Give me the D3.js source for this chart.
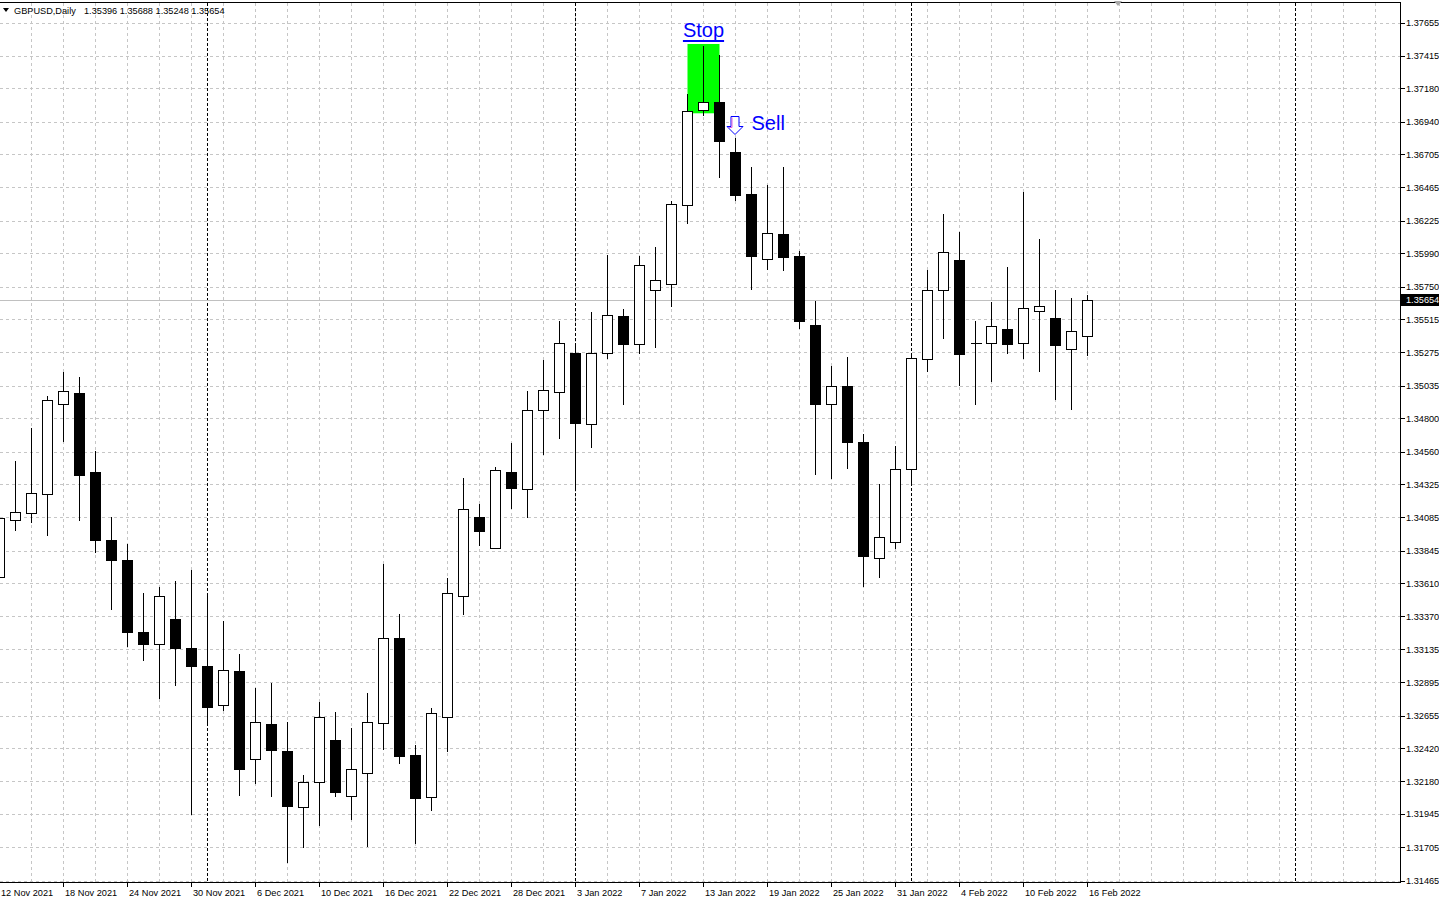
<!DOCTYPE html>
<html>
<head>
<meta charset="utf-8">
<script src="https://cdn.jsdelivr.net/npm/d3@7"></script>
<style>
    html, body { margin: 0; padding: 0; background: #ffffff; overflow: hidden; }
    svg { display: block; font-family: "Liberation Sans", Arial, sans-serif; }
</style>
</head>
<body>
<div id="grafico"></div>
<script>
const symbol = "GBPUSD,Daily";

const dates = [
    "2021-11-12", "2021-11-15", "2021-11-16", "2021-11-17", "2021-11-18", "2021-11-19",
    "2021-11-22", "2021-11-23", "2021-11-24", "2021-11-25", "2021-11-26",
    "2021-11-29", "2021-11-30", "2021-12-01", "2021-12-02", "2021-12-03",
    "2021-12-06", "2021-12-07", "2021-12-08", "2021-12-09", "2021-12-10",
    "2021-12-13", "2021-12-14", "2021-12-15", "2021-12-16", "2021-12-17",
    "2021-12-20", "2021-12-21", "2021-12-22", "2021-12-23", "2021-12-24",
    "2021-12-27", "2021-12-28", "2021-12-29", "2021-12-30", "2021-12-31",
    "2022-01-03", "2022-01-04", "2022-01-05", "2022-01-06", "2022-01-07",
    "2022-01-10", "2022-01-11", "2022-01-12", "2022-01-13", "2022-01-14",
    "2022-01-17", "2022-01-18", "2022-01-19", "2022-01-20", "2022-01-21",
    "2022-01-24", "2022-01-25", "2022-01-26", "2022-01-27", "2022-01-28",
    "2022-01-31", "2022-02-01", "2022-02-02", "2022-02-03", "2022-02-04",
    "2022-02-07", "2022-02-08", "2022-02-09", "2022-02-10", "2022-02-11",
    "2022-02-14", "2022-02-15", "2022-02-16"
];

const open = [
    1.33651, 1.34069, 1.34113, 1.34250, 1.34906, 1.34979, 1.34409, 1.33925, 1.33774, 1.33261,
    1.33168, 1.33355, 1.33139, 1.33009, 1.32728, 1.32980, 1.32345, 1.32591, 1.32396, 1.31992,
    1.32179, 1.32482, 1.32078, 1.32244, 1.32598, 1.33211, 1.32374, 1.32064, 1.32641, 1.33521,
    1.34084, 1.33867, 1.34409, 1.34293, 1.34863, 1.34986, 1.35274, 1.34762, 1.35274, 1.35541,
    1.35332, 1.35722, 1.35765, 1.36335, 1.37027, 1.37078, 1.36724, 1.36421, 1.35952, 1.36126,
    1.35967, 1.35476, 1.34906, 1.35029, 1.34625, 1.33795, 1.33904, 1.34437, 1.35224, 1.35722,
    1.35945, 1.35346, 1.35346, 1.35447, 1.35346, 1.35577, 1.35520, 1.35303, 1.35396
];

const high = [
    1.34120, 1.34488, 1.34726, 1.34957, 1.35130, 1.35094, 1.34567, 1.34091, 1.33896, 1.33536,
    1.33586, 1.33629, 1.33702, 1.33514, 1.33334, 1.33096, 1.32857, 1.32893, 1.32605, 1.32223,
    1.32756, 1.32684, 1.32562, 1.32821, 1.33745, 1.33391, 1.32446, 1.32706, 1.33644, 1.34372,
    1.34178, 1.34445, 1.34618, 1.34993, 1.35217, 1.35498, 1.35325, 1.35570, 1.35981, 1.35585,
    1.35967, 1.36032, 1.36364, 1.37136, 1.37482, 1.37424, 1.36825, 1.36609, 1.36486, 1.36616,
    1.36010, 1.35649, 1.35180, 1.35245, 1.34683, 1.34322, 1.34603, 1.35274, 1.35866, 1.36277,
    1.36147, 1.35505, 1.35635, 1.35888, 1.36429, 1.36090, 1.35722, 1.35664, 1.35688
];

const low = [
    1.33608, 1.33990, 1.34041, 1.33947, 1.34625, 1.34062, 1.33831, 1.33413, 1.33146, 1.33045,
    1.32771, 1.32865, 1.31941, 1.32583, 1.32691, 1.32078, 1.32158, 1.32071, 1.31588, 1.31696,
    1.31855, 1.32064, 1.31898, 1.31710, 1.32410, 1.32302, 1.31725, 1.31963, 1.32389, 1.33384,
    1.33875, 1.33860, 1.34142, 1.34077, 1.34538, 1.34647, 1.34300, 1.34582, 1.35224, 1.34892,
    1.35260, 1.35310, 1.35606, 1.36198, 1.36984, 1.36530, 1.36364, 1.35722, 1.35866, 1.35859,
    1.35447, 1.34394, 1.34358, 1.34437, 1.33579, 1.33644, 1.33853, 1.34315, 1.35137, 1.35375,
    1.35036, 1.34899, 1.35065, 1.35260, 1.35224, 1.35130, 1.34935, 1.34863, 1.35248
];

const close = [
    1.34077, 1.34120, 1.34257, 1.34928, 1.35000, 1.34394, 1.33918, 1.33774, 1.33261, 1.33168,
    1.33514, 1.33139, 1.33016, 1.32720, 1.32987, 1.32266, 1.32605, 1.32410, 1.32006, 1.32179,
    1.32648, 1.32107, 1.32266, 1.32612, 1.33218, 1.32360, 1.32057, 1.32677, 1.33536, 1.34142,
    1.33983, 1.34423, 1.34300, 1.34863, 1.35007, 1.35346, 1.34769, 1.35274, 1.35548, 1.35339,
    1.35909, 1.35794, 1.36342, 1.37020, 1.37078, 1.36797, 1.36414, 1.35967, 1.36133, 1.35960,
    1.35505, 1.34906, 1.35036, 1.34632, 1.33803, 1.33940, 1.34437, 1.35238, 1.35722, 1.35996,
    1.35267, 1.35346, 1.35462, 1.35339, 1.35592, 1.35613, 1.35325, 1.35426, 1.35654
];

const priceTicks = [
    1.37655, 1.37415, 1.37180, 1.36940, 1.36705, 1.36465, 1.36225, 1.35990, 1.35750,
    1.35515, 1.35275, 1.35035, 1.34800, 1.34560, 1.34325, 1.34085, 1.33845, 1.33610,
    1.33370, 1.33135, 1.32895, 1.32655, 1.32420, 1.32180, 1.31945, 1.31705, 1.31465
];

// month separators (bar index, last one is in the empty future area)
const periodSeparators = [13, 36, 57, 81];

// objects placed on the chart
const stopZone = { from: 43, to: 45, top: 1.37500, bottom: 1.37000 };
const stopLabel = { bar: 44, price: 1.37547, text: "Stop" };
const sellSignal = { bar: 46, price: 1.36977, text: "Sell" };
const shiftMarkerBar = 70;

document.addEventListener('DOMContentLoaded', () => {
    const width = 1439;
    const height = 903;
    const plotRight = 1400.5;
    const plotTop = 2.5;
    const plotBottom = 882.5;
    const bodyHalf = 5;

    const bars = dates.map((d, i) => ({
        i: i, date: d, o: open[i], h: high[i], l: low[i], c: close[i]
    }));

    const svg = d3.select('#grafico')
        .append('svg')
        .attr('width', width)
        .attr('height', height);

    const x = d3.scaleLinear()
        .domain([0, 68])
        .range([-0.5, 1087.5]);

    const y = d3.scaleLinear()
        .domain([1.31465, 1.37655])
        .range([880.5, 22.5]);

    const parse = d3.timeParse("%Y-%m-%d");
    const fmt = d3.timeFormat("%-d %b %Y");

    // grid
    const grid = svg.append('g').attr('shape-rendering', 'crispEdges');

    grid.selectAll('line.h')
        .data(priceTicks)
        .enter()
        .append('line')
        .attr('class', 'h')
        .attr('x1', 0)
        .attr('x2', plotRight)
        .attr('y1', d => Math.round(y(d)) + 0.5)
        .attr('y2', d => Math.round(y(d)) + 0.5)
        .attr('stroke', '#c6c6c6')
        .attr('stroke-dasharray', '3,3');

    const maxBar = Math.floor((plotRight - x(0)) / (x(1) - x(0)));
    grid.selectAll('line.v')
        .data(d3.range(0, maxBar + 1, 2))
        .enter()
        .append('line')
        .attr('class', 'v')
        .attr('x1', d => x(d))
        .attr('x2', d => x(d))
        .attr('y1', plotTop)
        .attr('y2', plotBottom)
        .attr('stroke', '#c6c6c6')
        .attr('stroke-dasharray', '3,3');

    grid.selectAll('line.sep')
        .data(periodSeparators)
        .enter()
        .append('line')
        .attr('class', 'sep')
        .attr('x1', d => x(d))
        .attr('x2', d => x(d))
        .attr('y1', plotTop)
        .attr('y2', plotBottom)
        .attr('stroke', '#000')
        .attr('stroke-dasharray', '3,2');

    // bid line
    const last = bars[bars.length - 1];
    svg.append('line')
        .attr('x1', 0)
        .attr('x2', plotRight)
        .attr('y1', Math.round(y(last.c)) + 0.5)
        .attr('y2', Math.round(y(last.c)) + 0.5)
        .attr('stroke', '#c0c0c0')
        .attr('shape-rendering', 'crispEdges');

    // green stop zone (drawn under candles)
    svg.append('rect')
        .attr('x', x(stopZone.from))
        .attr('y', y(stopZone.top))
        .attr('width', x(stopZone.to) - x(stopZone.from))
        .attr('height', y(stopZone.bottom) - y(stopZone.top))
        .attr('fill', '#00ff00');

    // candles
    const candles = svg.append('g').attr('shape-rendering', 'crispEdges');

    candles.selectAll('line.wick')
        .data(bars)
        .enter()
        .append('line')
        .attr('class', 'wick')
        .attr('x1', d => x(d.i))
        .attr('x2', d => x(d.i))
        .attr('y1', d => Math.round(y(d.h)))
        .attr('y2', d => Math.round(y(d.l)))
        .attr('stroke', '#000');

    candles.selectAll('rect.body')
        .data(bars.filter(d => d.o !== d.c))
        .enter()
        .append('rect')
        .attr('class', 'body')
        .attr('x', d => x(d.i) - bodyHalf)
        .attr('y', d => Math.round(y(Math.max(d.o, d.c))) + 0.5)
        .attr('width', bodyHalf * 2)
        .attr('height', d => Math.max(1, Math.round(y(Math.min(d.o, d.c))) - Math.round(y(Math.max(d.o, d.c)))))
        .attr('fill', d => d.c > d.o ? '#ffffff' : '#000000')
        .attr('stroke', '#000');

    candles.selectAll('line.doji')
        .data(bars.filter(d => d.o === d.c))
        .enter()
        .append('line')
        .attr('class', 'doji')
        .attr('x1', d => x(d.i) - bodyHalf)
        .attr('x2', d => x(d.i) + bodyHalf + 1)
        .attr('y1', d => Math.round(y(d.c)) + 0.5)
        .attr('y2', d => Math.round(y(d.c)) + 0.5)
        .attr('stroke', '#000');

    // Stop label
    const stopText = svg.append('text')
        .attr('x', x(stopLabel.bar))
        .attr('y', y(stopLabel.price))
        .attr('text-anchor', 'middle')
        .attr('font-size', '20px')
        .attr('fill', '#0000ff')
        .text(stopLabel.text);
    const stopW = stopText.node().getComputedTextLength();
    svg.append('line')
        .attr('x1', x(stopLabel.bar) - stopW / 2)
        .attr('x2', x(stopLabel.bar) + stopW / 2)
        .attr('y1', y(stopLabel.price) + 3.5)
        .attr('y2', y(stopLabel.price) + 3.5)
        .attr('stroke', '#0000ff')
        .attr('stroke-width', 2);

    // Sell arrow
    const ax = x(sellSignal.bar) - 0.5;
    const ay = Math.round(y(sellSignal.price)) + 0.5;
    svg.append('path')
        .attr('d', `M${ax - 4},${ay} L${ax + 4},${ay} L${ax + 4},${ay + 10} L${ax + 8},${ay + 10} L${ax},${ay + 18} L${ax - 8},${ay + 10} L${ax - 4},${ay + 10} Z`)
        .attr('fill', '#ffffff')
        .attr('stroke', '#0000ff');
    svg.append('path')
        .attr('d', `M${ax - 3},${ay + 1} L${ax - 3},${ay + 11} L${ax - 6},${ay + 11}`)
        .attr('fill', 'none')
        .attr('stroke', '#e060e0');

    svg.append('text')
        .attr('x', x(sellSignal.bar) + 16)
        .attr('y', y(sellSignal.price) + 14)
        .attr('font-size', '20px')
        .attr('fill', '#0000ff')
        .text(sellSignal.text);

    // frame
    svg.append('rect')
        .attr('x', -1)
        .attr('y', plotTop)
        .attr('width', plotRight + 1)
        .attr('height', plotBottom - plotTop)
        .attr('fill', 'none')
        .attr('stroke', '#000')
        .attr('shape-rendering', 'crispEdges');

    // price axis
    const yAxis = svg.append('g').attr('font-size', '9.2px');
    yAxis.selectAll('line')
        .data(priceTicks)
        .enter()
        .append('line')
        .attr('x1', plotRight)
        .attr('x2', plotRight + 4)
        .attr('y1', d => Math.round(y(d)) + 0.5)
        .attr('y2', d => Math.round(y(d)) + 0.5)
        .attr('stroke', '#000')
        .attr('shape-rendering', 'crispEdges');
    yAxis.selectAll('text')
        .data(priceTicks)
        .enter()
        .append('text')
        .attr('x', 1406)
        .attr('y', d => y(d) + 3.5)
        .attr('fill', '#000')
        .text(d => d.toFixed(5));

    // current price box
    svg.append('rect')
        .attr('x', 1401)
        .attr('y', Math.round(y(last.c)) - 6)
        .attr('width', 38)
        .attr('height', 12)
        .attr('fill', '#000');
    svg.append('text')
        .attr('x', 1406)
        .attr('y', y(last.c) + 3.5)
        .attr('font-size', '9.2px')
        .attr('fill', '#fff')
        .text(last.c.toFixed(5));

    // date axis
    const labelBars = bars.filter(d => d.i % 4 === 0);
    const xAxis = svg.append('g').attr('font-size', '9.2px');
    xAxis.selectAll('line')
        .data(labelBars)
        .enter()
        .append('line')
        .attr('x1', d => x(d.i))
        .attr('x2', d => x(d.i))
        .attr('y1', plotBottom)
        .attr('y2', plotBottom + 4)
        .attr('stroke', '#000')
        .attr('shape-rendering', 'crispEdges');
    xAxis.selectAll('text')
        .data(labelBars)
        .enter()
        .append('text')
        .attr('x', d => Math.max(0, x(d.i) + 1.5))
        .attr('y', 896)
        .attr('fill', '#000')
        .text(d => fmt(parse(d.date)));

    // header
    svg.append('path')
        .attr('d', 'M3,8 L9,8 L6,12 Z')
        .attr('fill', '#000');
    svg.append('text')
        .attr('x', 14)
        .attr('y', 14)
        .attr('font-size', '9.2px')
        .attr('fill', '#000')
        .text(symbol);
    svg.append('text')
        .attr('x', 84)
        .attr('y', 14)
        .attr('font-size', '9.2px')
        .attr('fill', '#000')
        .text([last.o, last.h, last.l, last.c].map(v => v.toFixed(5)).join(' '));

    // chart shift marker
    const sx = x(shiftMarkerBar) - 1.5;
    svg.append('path')
        .attr('d', `M${sx - 4},1 L${sx + 4},1 L${sx},6 Z`)
        .attr('fill', '#a8a8a8');
});
</script>
</body>
</html>
